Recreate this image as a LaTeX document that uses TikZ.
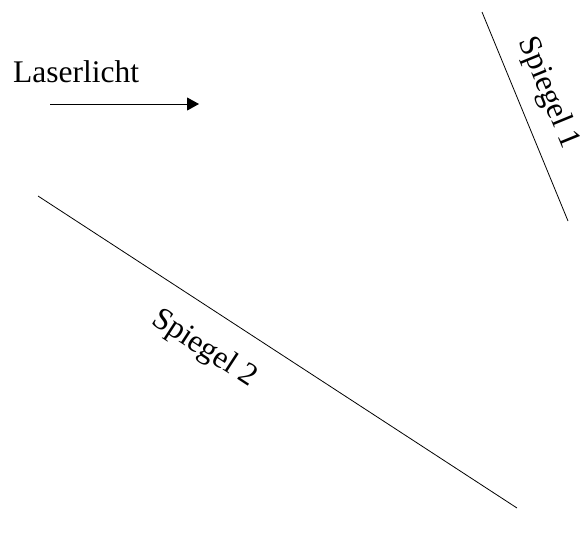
\documentclass[tikz,border=0pt]{standalone}
\usepackage{fontspec}
\setmainfont{Liberation Serif}
\usetikzlibrary{arrows.meta}
\begin{document}
\begin{tikzpicture}[x=1pt,y=-1pt,
  lbl/.style={font=\fontsize{31.5}{38}\selectfont, inner sep=0pt},
  mirror/.style={line width=0.8pt},
  beam/.style={line width=1pt, -{Triangle[length=12pt,width=13pt]}}]
\useasboundingbox (0,0) rectangle (580,539);
\node[lbl, anchor=base west] (laser) at (13,82) {Laserlicht};
\coordinate (b1) at (50,104);
\coordinate (b2) at (199,104);
\draw[beam] (b1) -- (b2);
\coordinate (m1a) at (482,12);
\coordinate (m1b) at (568,221);
\draw[mirror] (m1a) -- (m1b);
\node[lbl, rotate=-67.7] (s1) at (548,93) {Spiegel 1};
\coordinate (m2a) at (38,196);
\coordinate (m2b) at (517,508);
\draw[mirror] (m2a) -- (m2b);
\node[lbl, rotate=-33.1] (s2) at (204,349) {Spiegel 2};
\end{tikzpicture}
\end{document}
